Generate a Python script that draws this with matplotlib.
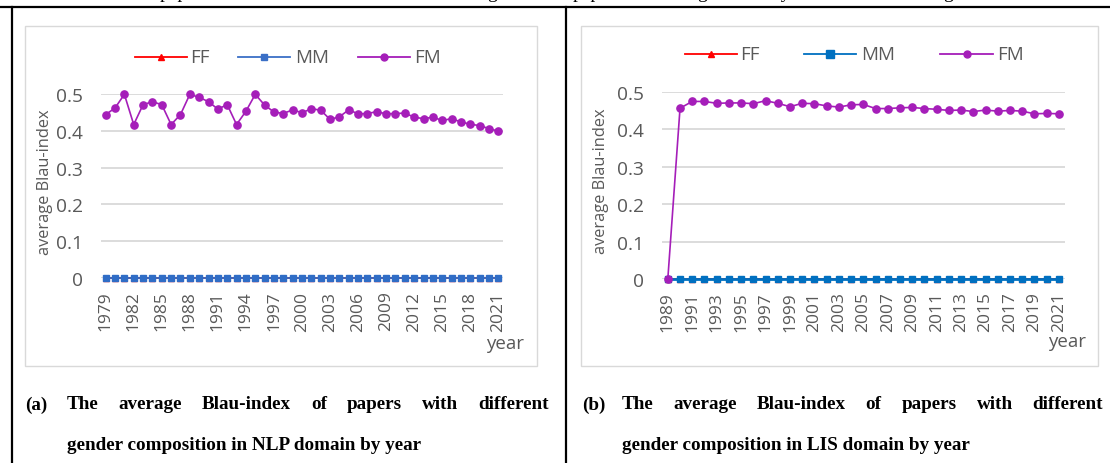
import numpy as np
import matplotlib
matplotlib.use("Agg")
import matplotlib.pyplot as plt
from matplotlib.lines import Line2D

# ---------------- data ----------------
years_nlp = list(range(1979, 2022))
fm_nlp = [0.444, 0.462, 0.499, 0.417, 0.471, 0.479, 0.471, 0.417, 0.444, 0.499,
          0.491, 0.479, 0.459, 0.471, 0.417, 0.453, 0.499, 0.470, 0.451, 0.447,
          0.457, 0.449, 0.460, 0.456, 0.431, 0.438, 0.457, 0.446, 0.447, 0.452,
          0.446, 0.447, 0.448, 0.437, 0.433, 0.437, 0.428, 0.433, 0.424, 0.418,
          0.414, 0.406, 0.399]
ff_nlp = [0.0] * len(years_nlp)
mm_nlp = [0.0] * len(years_nlp)

years_lis = list(range(1989, 2022))
fm_lis = [0.0, 0.456, 0.474, 0.474, 0.469, 0.470, 0.470, 0.468, 0.476, 0.469,
          0.460, 0.469, 0.468, 0.462, 0.459, 0.465, 0.466, 0.455, 0.455, 0.457,
          0.458, 0.455, 0.453, 0.450, 0.451, 0.447, 0.451, 0.448, 0.450, 0.448,
          0.441, 0.442, 0.441]
ff_lis = [0.0] * len(years_lis)
mm_lis = [0.0] * len(years_lis)

series_names = ["FF", "MM", "FM"]
yticks = [0, 0.1, 0.2, 0.3, 0.4, 0.5]
ytick_labels = ["0", "0.1", "0.2", "0.3", "0.4", "0.5"]
ylabel = "average Blau-index"
xlabel = "year"
caption_a_tag = "(a)"
caption_a = ["The average Blau-index of papers with different",
             "gender composition in NLP domain by year"]
caption_b_tag = "(b)"
caption_b = ["The average Blau-index of papers with different",
             "gender composition in LIS domain by year"]
# words of the preceding (cut-off) text line, only descenders visible
top_words = ["papers", "gender", "papers", "gender", "by", "gender"]

# ---------------- figure ----------------
W, H = 1110, 464
fig = plt.figure(figsize=(W / 100, H / 100), dpi=100)
fig.patch.set_facecolor("white")

def fx(x):
    return x / W

def fy(y):
    return 1 - y / H

GRAY_TXT = "#595959"
GRID = "#D9D9D9"
FONT = "Open Sans"
RED = "#FF0000"
PURPLE = "#A51EB9"

# table borders
for (x0, y0, x1, y1) in [(0, 8, W, 8), (12, 8, 12, H), (566, 8, 566, H)]:
    fig.add_artist(Line2D([fx(x0), fx(x1)], [fy(y0), fy(y1)], color="black",
                          lw=1.6, transform=fig.transFigure))

# chart frames
for (x0, y0, x1, y1) in [(25, 27, 537, 367), (581, 27, 1098, 367)]:
    fig.add_artist(plt.Rectangle((fx(x0), fy(y1)), fx(x1) - fx(x0), fy(y0) - fy(y1),
                                 fill=False, ec=GRID, lw=1.0, transform=fig.transFigure))


def make_chart(box, years, ff, mm, fm, step, mm_color, mm_ms, mm_lw, ylab_x, year_xy):
    x0, y0, x1, y1 = box
    ax = fig.add_axes([fx(x0), fy(y1), fx(x1) - fx(x0), fy(y0) - fy(y1)])
    idx = np.arange(len(years))
    ax.set_xlim(-0.5, len(years) - 0.5)
    ax.set_ylim(0, 0.5)
    ax.set_yticks(yticks)
    ax.set_yticklabels(ytick_labels)
    ax.grid(axis="y", color=GRID, lw=1.3)
    ax.set_axisbelow(True)
    for s in ax.spines.values():
        s.set_visible(False)
    ax.tick_params(axis="both", length=0, colors=GRAY_TXT)
    ax.tick_params(axis="y", pad=13, labelsize=13.8)
    ax.tick_params(axis="x", pad=9, labelsize=12.5, labelrotation=90)
    for t in ax.get_yticklabels() + ax.get_xticklabels():
        t.set_fontfamily(FONT)
    tick_pos = idx[::step]
    ax.set_xticks(tick_pos)
    ax.set_xticklabels([str(years[i]) for i in tick_pos], fontfamily=FONT)
    ax.plot(idx, ff, color=RED, lw=1.2, marker="^", ms=4.5, clip_on=False, zorder=3)
    ax.plot(idx, mm, color=mm_color, lw=mm_lw, marker="s", ms=mm_ms, clip_on=False, zorder=4)
    ax.plot(idx, fm, color=PURPLE, lw=1.2, marker="o", ms=5.2, clip_on=False, zorder=5)
    fig.text(fx(ylab_x), fy((y0 + y1) / 2 - 5), ylabel, rotation=90, ha="center", va="center",
             color=GRAY_TXT, fontsize=11.8, fontfamily=FONT)
    fig.text(fx(year_xy[0]), fy(year_xy[1]), xlabel, ha="right", va="center",
             color=GRAY_TXT, fontsize=13.5, fontfamily=FONT)
    return ax


make_chart((101, 95, 503, 279), years_nlp, ff_nlp, mm_nlp, fm_nlp, 3,
           "#2F6DC6", 4.2, 1.2, 45, (524, 344))
make_chart((661.7, 92.7, 1065, 280), years_lis, ff_lis, mm_lis, fm_lis, 2,
           "#0070C0", 5.0, 2.0, 601, (1086, 342))


def legend(y, items):
    for (lx0, lx1, tx, color, marker, ms, label) in items:
        fig.add_artist(Line2D([fx(lx0), fx(lx1)], [fy(y), fy(y)], color=color, lw=1.3,
                              transform=fig.transFigure))
        fig.add_artist(Line2D([fx((lx0 + lx1) / 2)], [fy(y)], color=color, marker=marker,
                              ms=ms, lw=0, transform=fig.transFigure))
        fig.text(fx(tx), fy(y), label, ha="left", va="center", color=GRAY_TXT,
                 fontsize=13.5, fontfamily=FONT)

legend(58, [(135, 187, 190, RED, "^", 5, series_names[0]),
            (238, 290, 295, "#3A6FC6", "s", 5, series_names[1]),
            (358, 410, 414, PURPLE, "o", 5, series_names[2])])
legend(55, [(685, 737, 740, RED, "^", 5, series_names[0]),
            (804, 856, 861, "#0070C0", "s", 6, series_names[1]),
            (940, 993, 997, PURPLE, "o", 5, series_names[2])])

# captions with justification
renderer = fig.canvas.get_renderer()
CAP = dict(fontfamily="Liberation Serif", fontweight="bold", fontsize=13.8, color="black")


def justify(words, xl, xr, y):
    texts = [fig.text(0, fy(y), w, ha="left", va="center", **CAP) for w in words]
    widths = [t.get_window_extent(renderer).width for t in texts]
    gap = (xr - xl - sum(widths)) / max(len(words) - 1, 1)
    x = xl
    for t, wdt in zip(texts, widths):
        t.set_x(fx(x))
        x += wdt + gap


def left_line(text, xl, y):
    fig.text(fx(xl), fy(y), text, ha="left", va="center", **CAP)

fig.text(fx(25), fy(405), caption_a_tag, ha="left", va="center", **CAP)
justify(caption_a[0].split(), 67, 549, 405)
left_line(caption_a[1], 67, 446)
fig.text(fx(582), fy(405), caption_b_tag, ha="left", va="center", **CAP)
justify(caption_b[0].split(), 622, 1103, 405)
left_line(caption_b[1], 622, 446)

# cut-off preceding line (only descenders inside the image)
for wx, w in zip([160, 487, 573, 697, 771, 943], top_words):
    fig.text(fx(wx), fy(-1.5), w, ha="left", va="baseline",
             fontfamily="Liberation Serif", fontsize=14, color="black")

fig.savefig("out.png", dpi=100, facecolor="white")
